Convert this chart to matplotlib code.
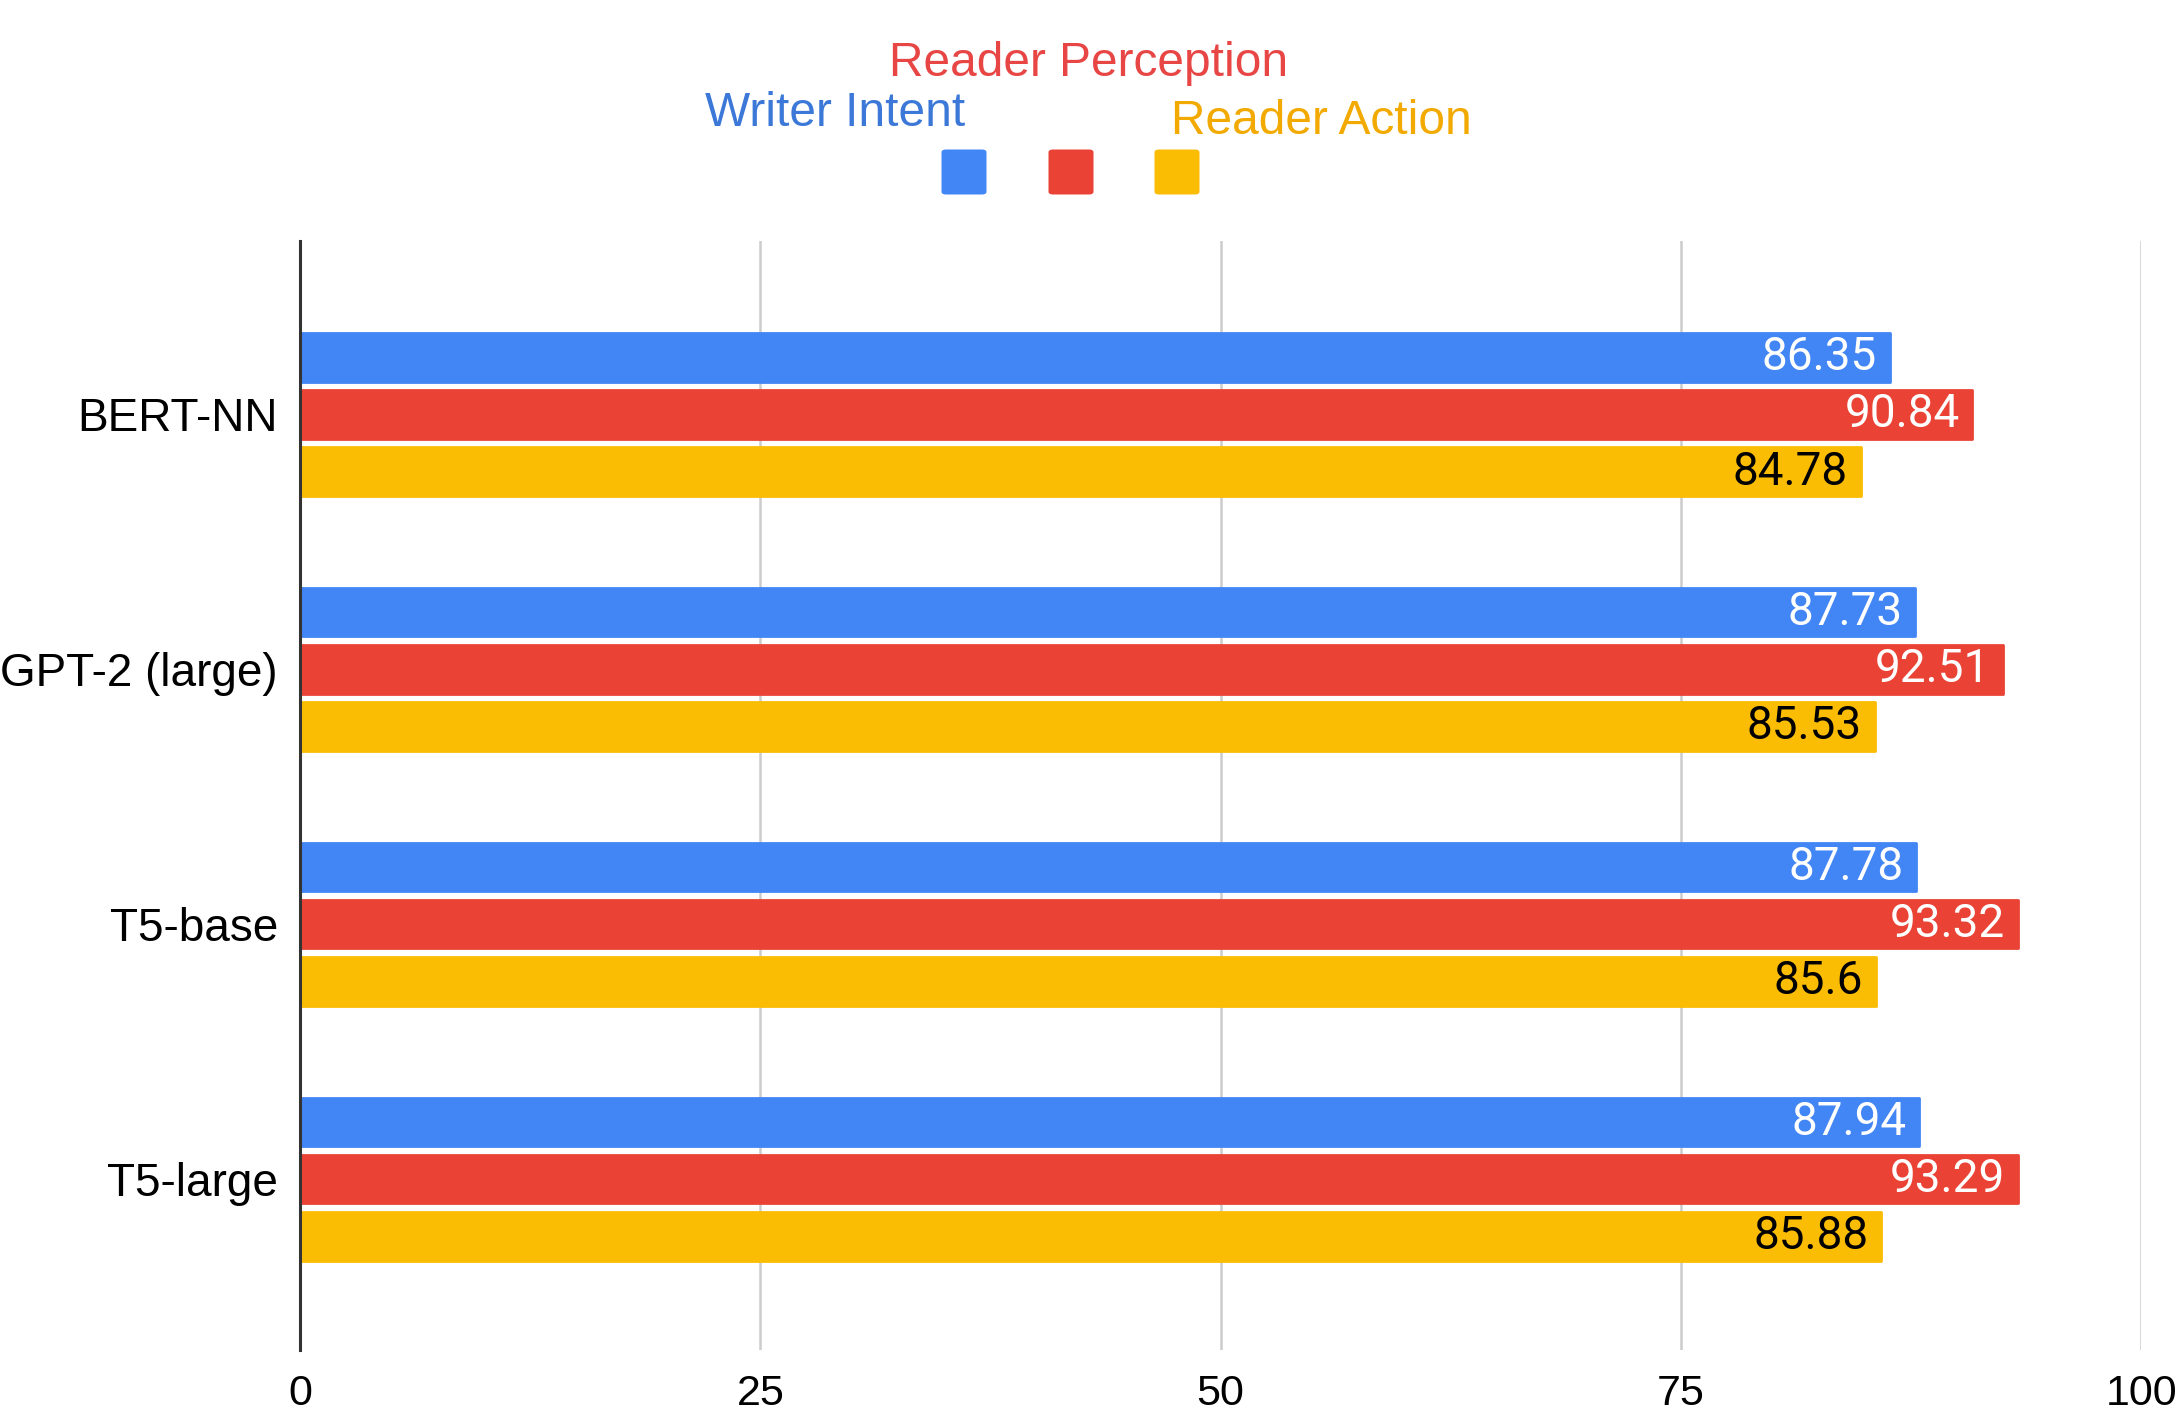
import matplotlib.pyplot as plt
from matplotlib.patches import FancyBboxPatch
import numpy as np

models = ['BERT-NN', 'GPT-2 (large)', 'T5-base', 'T5-large']
writer_intent = [86.35, 87.73, 87.78, 87.94]
reader_perception = [90.84, 92.51, 93.32, 93.29]
reader_action = [84.78, 85.53, 85.6, 85.88]
xticks = [0, 25, 50, 75, 100]

series = [
    ('Writer Intent', writer_intent, '#4285F4', 'white', '#3C78D8'),
    ('Reader Perception', reader_perception, '#EA4335', 'white', '#E84545'),
    ('Reader Action', reader_action, '#FBBC04', 'black', '#F2A900'),
]

fig = plt.figure(figsize=(21.81, 14.13), dpi=100)
ax = fig.add_axes([0.1376, 0.0446, 0.8441, 0.7848])

y = np.arange(len(models))
pitch = 0.224
height = 0.19

for i, (name, vals, color, txtcolor, _) in enumerate(series):
    pos = y + (i - 1) * pitch
    bars = ax.barh(pos, vals, height=height, color=color, edgecolor=color,
                   linewidth=2, joinstyle='round', zorder=3)
    for b, v in zip(bars, vals):
        ax.text(v - 0.7, b.get_y() + b.get_height() / 2, f'{v:g}',
                ha='right', va='center', fontsize=33, color=txtcolor,
                family='Roboto', zorder=4)

ax.set_xlim(0, 100)
ax.set_ylim(3.67, -0.68)
ax.set_yticks(y)
ax.set_yticklabels(models, fontsize=33, family='Liberation Sans')
ax.set_xticks(xticks)
ax.set_xticklabels([str(t) for t in xticks], fontsize=31, family='Liberation Sans')
ax.tick_params(axis='both', length=0)
ax.tick_params(axis='x', pad=17)
ax.tick_params(axis='y', pad=16)

for s in ['top', 'right', 'bottom']:
    ax.spines[s].set_visible(False)
ax.spines['left'].set_color('#333333')
ax.spines['left'].set_linewidth(2.2)
ax.spines['left'].set_zorder(5)
ax.grid(axis='x', color='#cccccc', linewidth=1.8, zorder=0)
ax.set_axisbelow(True)

# legend: text labels above, colour swatches below
W, H = 2181, 1413
label_pos = [(835, 114), (1089, 63), (1321, 121)]
swatch_x = [964, 1071, 1177]
for (name, _, color, _, txtc), (lx, ly), sx in zip(series, label_pos, swatch_x):
    fig.text(lx / W, 1 - ly / H, name, ha='center', va='center',
             fontsize=34.5, color=txtc, family='Liberation Sans')
    sw = 45
    patch = FancyBboxPatch(((sx - sw / 2) / W, 1 - (172 + sw / 2) / H),
                           sw / W, sw / H,
                           boxstyle='round,pad=0,rounding_size=0.002',
                           transform=fig.transFigure, facecolor=color,
                           edgecolor='none')
    fig.patches.append(patch)

fig.savefig('out.png', dpi=100)
